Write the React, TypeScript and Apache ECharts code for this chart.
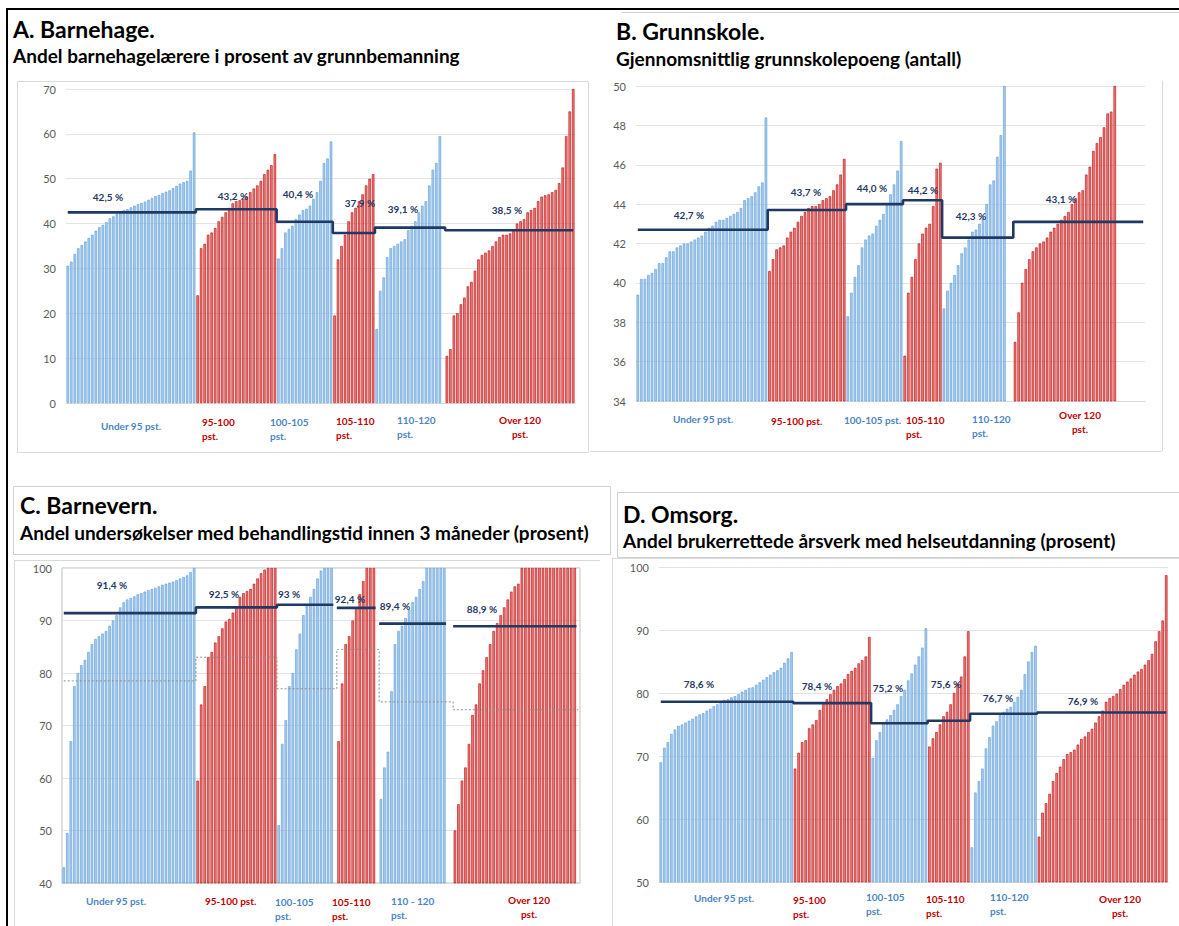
import React, { useEffect, useRef } from 'react';
import * as echarts from 'echarts';

const FONT = 'Lato, "Open Sans", "Noto Sans", sans-serif';
const BLUE_FILL = '#a8cbee';
const BLUE_EDGE = '#5b9bd5';
const RED_FILL = '#e67d7d';
const RED_EDGE = '#c00000';
const NAVY = '#1f3864';
const BLUE_TXT = '#4a84c4';
const RED_TXT = '#c00000';

// Group order: Under 95, 95-100, 100-105, 105-110, 110-120, Over 120 pst.
const groupIsRed = [false, true, false, true, false, true];

// ---------- A. Barnehage ----------
const aUnder95 = [30.6, 31.5, 33.2, 34.5, 35.2, 36.0, 36.8, 37.5, 38.4, 39.2, 39.7, 40.3, 41.2, 41.6, 42.2, 42.7, 43.0, 43.2, 43.6, 44.0, 44.3, 44.6, 44.9, 45.3, 45.7, 46.1, 46.4, 46.8, 47.1, 47.4, 47.9, 48.4, 48.9, 49.2, 49.5, 51.8, 60.3];
const a95to100 = [24.0, 34.5, 35.5, 37.5, 38.0, 39.0, 40.5, 41.5, 42.5, 43.5, 44.5, 45.0, 45.2, 45.5, 46.0, 47.0, 47.8, 48.5, 49.5, 51.0, 52.0, 53.0, 55.5];
const a100to105 = [32.2, 34.5, 38.0, 38.8, 39.5, 41.0, 42.0, 43.0, 43.3, 44.0, 45.5, 47.0, 49.5, 53.5, 54.5, 58.3];
const a105to110 = [19.5, 32.0, 35.0, 37.5, 40.5, 42.5, 43.5, 45.0, 46.5, 48.5, 50.0, 51.0];
const a110to120 = [16.5, 25.0, 28.0, 32.5, 34.5, 35.0, 35.5, 36.0, 36.5, 38.5, 39.5, 40.5, 42.5, 44.0, 45.0, 48.5, 52.0, 53.5, 59.5];
const aOver120 = [10.5, 12.0, 19.5, 20.0, 22.0, 23.5, 26.0, 27.0, 29.5, 32.0, 33.0, 33.5, 34.0, 35.0, 36.0, 37.0, 37.5, 37.5, 37.8, 38.5, 40.0, 40.5, 41.0, 42.5, 43.0, 43.5, 45.0, 46.0, 46.3, 46.5, 47.0, 47.5, 49.0, 52.5, 59.5, 65.0, 70.0];
const aEmptyAfter = [0, 0, 0, 0, 1, 0];
const aAverages = [42.5, 43.2, 40.4, 37.9, 39.1, 38.5];
const aAvgLabels = ['42,5 %', '43,2 %', '40,4 %', '37,9 %', '39,1 %', '38,5 %'];

// ---------- B. Grunnskole ----------
const bUnder95 = [39.4, 40.2, 40.2, 40.4, 40.5, 40.7, 41.0, 41.0, 41.3, 41.6, 41.6, 41.8, 41.9, 42.0, 42.0, 42.1, 42.2, 42.3, 42.4, 42.6, 42.8, 42.9, 43.1, 43.2, 43.2, 43.3, 43.4, 43.5, 43.6, 43.8, 44.2, 44.3, 44.4, 44.6, 44.9, 45.1, 48.4];
const b95to100 = [40.6, 41.2, 41.7, 41.8, 41.9, 42.3, 42.6, 42.8, 43.1, 43.4, 43.6, 43.8, 43.9, 43.9, 44.0, 44.2, 44.3, 44.4, 44.7, 45.0, 45.5, 46.3];
const b100to105 = [38.3, 39.5, 40.3, 40.9, 41.8, 42.2, 42.4, 42.5, 42.9, 43.2, 43.5, 44.0, 44.5, 45.0, 45.7, 47.2];
const b105to110 = [36.3, 39.5, 40.3, 41.2, 42.0, 42.5, 42.8, 43.0, 43.9, 45.8, 46.1];
const b110to120 = [38.7, 39.6, 40.0, 40.4, 40.9, 41.5, 41.8, 42.2, 42.6, 42.7, 43.0, 43.3, 44.0, 45.0, 45.2, 46.4, 47.5, 50.0];
const bOver120 = [37.0, 38.5, 40.0, 40.7, 41.2, 41.6, 41.8, 42.0, 42.1, 42.3, 42.6, 42.8, 43.0, 43.2, 43.4, 43.6, 44.0, 44.3, 44.6, 44.7, 45.5, 45.9, 46.7, 47.1, 47.4, 47.9, 48.6, 48.7, 50.0];
const bEmptyAfter = [0, 0, 0, 0, 2, 8];
const bAverages = [42.7, 43.7, 44.0, 44.2, 42.3, 43.1];
const bAvgLabels = ['42,7 %', '43,7 %', '44,0 %', '44,2 %', '42,3 %', '43,1 %'];

// ---------- C. Barnevern ----------
const cUnder95 = [43.0, 49.5, 67.0, 77.5, 80.0, 81.5, 82.5, 84.0, 85.5, 86.5, 87.0, 87.5, 88.0, 89.0, 90.0, 91.0, 92.5, 93.5, 94.0, 94.3, 94.6, 95.0, 95.2, 95.5, 95.8, 96.0, 96.2, 96.5, 96.8, 97.0, 97.2, 97.4, 97.7, 98.0, 98.3, 98.6, 99.2, 100];
const c95to100 = [59.5, 74.0, 77.5, 83.0, 84.0, 85.8, 87.0, 88.5, 89.8, 90.3, 91.5, 92.5, 94.5, 95.2, 95.6, 96.0, 97.0, 98.0, 99.0, 99.7, 100, 100, 100];
const c100to105 = [51.0, 66.5, 71.0, 77.5, 80.0, 84.5, 87.5, 91.0, 93.0, 94.5, 96.0, 98.0, 99.5, 100, 100, 100];
const c105to110 = [67.0, 78.0, 85.5, 87.0, 90.0, 92.5, 95.0, 97.5, 100, 100, 100];
const c110to120 = [56.0, 62.0, 65.0, 76.5, 85.5, 88.0, 89.0, 90.5, 92.0, 93.5, 94.5, 96.0, 97.5, 100, 100, 100, 100, 100, 100];
const cOver120 = [50.0, 55.0, 59.5, 62.0, 66.5, 72.0, 74.0, 78.0, 80.5, 83.0, 85.5, 88.0, 89.5, 91.0, 92.5, 94.0, 95.5, 96.5, 97.0, 100, 100, 100, 100, 100, 100, 100, 100, 100, 100, 100, 100, 100, 100, 100, 100];
const cEmptyAfter = [0, 0, 1, 1, 2, 1];
const cAverages = [91.4, 92.5, 93.0, 92.4, 89.4, 88.9];
const cPrevAverages = [78.5, 83.0, 77.0, 84.5, 74.5, 73.0];
const cAvgLabels = ['91,4 %', '92,5 %', '93 %', '92,4 %', '89,4 %', '88,9 %'];

// ---------- D. Omsorg ----------
const dUnder95 = [69.0, 71.3, 72.2, 73.5, 74.2, 74.8, 75.0, 75.3, 75.6, 75.9, 76.3, 76.6, 76.8, 77.2, 77.5, 77.9, 78.2, 78.6, 78.9, 79.0, 79.3, 79.5, 79.8, 80.2, 80.5, 80.8, 80.9, 81.3, 81.7, 82.1, 82.5, 82.9, 83.3, 83.6, 84.0, 84.8, 85.5, 86.5];
const d95to100 = [68.0, 70.5, 72.2, 72.5, 74.4, 75.0, 75.7, 77.3, 78.5, 79.0, 79.8, 80.5, 81.1, 81.5, 82.2, 83.0, 83.5, 84.0, 84.7, 85.2, 85.8, 88.9];
const d100to105 = [69.7, 72.5, 73.8, 75.3, 75.8, 76.5, 77.3, 78.2, 79.5, 80.5, 82.0, 83.1, 84.5, 85.8, 87.2, 90.3];
const d105to110 = [71.5, 72.8, 73.8, 75.0, 76.3, 77.0, 78.2, 80.0, 81.5, 82.6, 85.8, 89.8];
const d110to120 = [55.5, 64.2, 66.0, 68.0, 71.2, 73.0, 74.8, 75.5, 76.5, 77.0, 77.5, 77.8, 78.6, 79.4, 80.5, 83.0, 85.0, 86.5, 87.5];
const dOver120 = [57.2, 61.0, 62.5, 64.0, 66.0, 67.3, 68.3, 69.5, 70.3, 70.6, 71.0, 71.8, 72.7, 73.1, 73.8, 74.3, 75.3, 76.3, 77.2, 78.6, 79.2, 79.5, 79.9, 80.6, 81.3, 81.8, 82.3, 82.9, 83.4, 83.8, 84.5, 85.2, 86.2, 88.2, 89.8, 91.5, 98.7];
const dEmptyAfter = [0, 0, 0, 0, 0, 0];
const dAverages = [78.6, 78.4, 75.2, 75.6, 76.7, 76.9];
const dAvgLabels = ['78,6 %', '78,4 %', '75,2 %', '75,6 %', '76,7 %', '76,9 %'];

type PanelDef = {
  groups: number[][];
  emptyAfter: number[];
  averages: number[];
  prevAverages?: number[];
  breakLine: boolean;
  grid: { left: number; top: number; width: number; height: number };
  y: [number, number, number];
  frame: boolean;
};

const panels: PanelDef[] = [
  {
    groups: [aUnder95, a95to100, a100to105, a105to110, a110to120, aOver120],
    emptyAfter: aEmptyAfter, averages: aAverages, breakLine: false,
    grid: { left: 66, top: 89, width: 509, height: 314 }, y: [0, 70, 10], frame: false,
  },
  {
    groups: [bUnder95, b95to100, b100to105, b105to110, b110to120, bOver120],
    emptyAfter: bEmptyAfter, averages: bAverages, breakLine: false,
    grid: { left: 636, top: 86, width: 509, height: 315 }, y: [34, 50, 2], frame: false,
  },
  {
    groups: [cUnder95, c95to100, c100to105, c105to110, c110to120, cOver120],
    emptyAfter: cEmptyAfter, averages: cAverages, prevAverages: cPrevAverages, breakLine: true,
    grid: { left: 62, top: 568, width: 518, height: 315 }, y: [40, 100, 10], frame: true,
  },
  {
    groups: [dUnder95, d95to100, d100to105, d105to110, d110to120, dOver120],
    emptyAfter: dEmptyAfter, averages: dAverages, breakLine: false,
    grid: { left: 659, top: 567, width: 509, height: 315 }, y: [50, 100, 10], frame: false,
  },
];

const blueStyle = { color: BLUE_FILL, borderColor: BLUE_EDGE, borderWidth: 0.6 };
const redStyle = { color: RED_FILL, borderColor: RED_EDGE, borderWidth: 0.6 };

function buildPanelData(p: PanelDef) {
  const cats: string[] = [];
  const bars: any[] = [];
  const avg: any[] = [];
  const prev: any[] = [];
  p.groups.forEach((g, gi) => {
    g.forEach((v) => {
      cats.push(String(cats.length));
      bars.push({ value: v, itemStyle: groupIsRed[gi] ? redStyle : blueStyle });
      avg.push(p.averages[gi]);
      if (p.prevAverages) prev.push(p.prevAverages[gi]);
    });
    for (let k = 0; k < p.emptyAfter[gi]; k++) {
      cats.push(String(cats.length));
      bars.push('-');
      avg.push(p.breakLine ? '-' : p.averages[gi]);
      if (p.prevAverages) prev.push(p.prevAverages[gi]);
    }
  });
  return { cats, bars, avg, prev };
}

// ---------- text layout ----------
const titles: [string, number, number, number][] = [
  ['A. Barnehage.', 13, 29, 23],
  ['Andel barnehagelærere i prosent av grunnbemanning', 13, 55, 19],
  ['B. Grunnskole.', 616, 31, 23],
  ['Gjennomsnittlig grunnskolepoeng (antall)', 616, 58, 19],
  ['C. Barnevern.', 20, 505, 23],
  ['Andel undersøkelser med behandlingstid innen 3 måneder (prosent)', 20, 532, 19],
  ['D. Omsorg.', 623, 514, 23],
  ['Andel brukerrettede årsverk med helseutdanning (prosent)', 623, 540, 19],
];

const groupLabelPos: [string, number, number, string][][] = [
  [
    ['Under 95 pst.', 101, 426, 'left'],
    ['95-100\npst.', 202, 428.5, 'left'],
    ['100-105\npst.', 270, 429, 'left'],
    ['105-110\npst.', 336, 427.5, 'left'],
    ['110-120\npst.', 397, 426.5, 'left'],
    ['Over 120\npst.', 520, 427, 'center'],
  ],
  [
    ['Under 95 pst.', 673, 419, 'left'],
    ['95-100 pst.', 771, 421, 'left'],
    ['100-105 pst.', 844, 420, 'left'],
    ['105-110\npst.', 906, 426.5, 'left'],
    ['110-120\npst.', 972, 426, 'left'],
    ['Over 120\npst.', 1080, 422, 'center'],
  ],
  [
    ['Under 95 pst.', 86, 901, 'left'],
    ['95-100 pst.', 205, 901, 'left'],
    ['100-105\npst.', 275, 908.5, 'left'],
    ['105-110\npst.', 332, 908.5, 'left'],
    ['110 - 120\npst.', 391, 907.5, 'left'],
    ['Over 120\npst.', 529, 906.5, 'center'],
  ],
  [
    ['Under 95 pst.', 694, 898, 'left'],
    ['95-100\npst.', 793, 907, 'left'],
    ['100-105\npst.', 866, 904, 'left'],
    ['105-110\npst.', 926, 906, 'left'],
    ['110-120\npst.', 990, 904, 'left'],
    ['Over 120\npst.', 1120, 906, 'center'],
  ],
];

const avgLabelPos: [number, number][][] = [
  [[108, 197], [233, 196], [298, 194], [360, 203], [403, 209], [507, 210]],
  [[689, 215], [806, 192], [872, 188], [923, 190], [971, 216], [1061, 199]],
  [[112, 585], [224, 594], [289, 594], [350, 599], [395, 606], [482, 609]],
  [[699, 684], [817, 686], [888, 688], [946, 684], [998, 698], [1083, 701]],
];
const avgLabelTexts = [aAvgLabels, bAvgLabels, cAvgLabels, dAvgLabels];

function text(t: string, x: number, y: number, size: number, color: string, align = 'left', lineHeight?: number) {
  return {
    type: 'text', x, y, z: 100, silent: true,
    style: {
      text: t, fill: color, fontSize: size, fontWeight: 'bold', fontFamily: FONT,
      align, textAlign: align, verticalAlign: 'middle', textVerticalAlign: 'middle',
      lineHeight: lineHeight || Math.round(size * 1.3),
    },
  };
}
function line(x1: number, y1: number, x2: number, y2: number, stroke: string, w = 1) {
  return { type: 'line', z: 50, silent: true, shape: { x1, y1, x2, y2 }, style: { stroke, lineWidth: w } };
}
function rect(x: number, y: number, w: number, h: number, stroke: string) {
  return { type: 'rect', z: 50, silent: true, shape: { x, y, width: w, height: h }, style: { fill: 'none', stroke, lineWidth: 1 } };
}

function buildOption() {
  const grid: any[] = [];
  const xAxis: any[] = [];
  const yAxis: any[] = [];
  const series: any[] = [];
  panels.forEach((p, i) => {
    const d = buildPanelData(p);
    grid.push({ ...p.grid, show: p.frame, borderColor: '#bfbfbf', borderWidth: 1, containLabel: false });
    xAxis.push({
      type: 'category', gridIndex: i, data: d.cats, boundaryGap: true,
      axisLabel: { show: false }, axisTick: { show: false },
      axisLine: { show: true, lineStyle: { color: '#d9d9d9', width: 1 } },
      splitLine: { show: false },
    });
    yAxis.push({
      type: 'value', gridIndex: i, min: p.y[0], max: p.y[1], interval: p.y[2],
      axisLine: { show: false }, axisTick: { show: false },
      axisLabel: { color: '#595959', fontSize: 11, fontFamily: FONT, margin: 10 },
      splitLine: { show: true, lineStyle: { color: '#e3e3e3', width: 1 } },
    });
    series.push({
      type: 'bar', xAxisIndex: i, yAxisIndex: i, data: d.bars,
      barCategoryGap: '30%', z: 2,
    });
    if (p.prevAverages) {
      series.push({
        type: 'line', xAxisIndex: i, yAxisIndex: i, data: d.prev, step: 'middle',
        symbol: 'none', z: 3,
        lineStyle: { color: '#8c8c8c', width: 1, type: [2, 2] },
      });
    }
    series.push({
      type: 'line', xAxisIndex: i, yAxisIndex: i, data: d.avg, step: 'middle',
      symbol: 'none', connectNulls: false, z: 4,
      lineStyle: { color: NAVY, width: 2.6 },
    });
  });

  const graphic: any[] = [];
  // frames
  graphic.push(line(7, 9, 1179, 9, '#000', 2));
  graphic.push(line(7, 8, 7, 926, '#000', 2));
  graphic.push(line(622, 12.5, 1179, 12.5, '#d0d0d0', 1));
  graphic.push(rect(17.5, 81.5, 571, 371, '#d9d9d9'));
  graphic.push(line(590, 451.5, 1162, 451.5, '#d9d9d9', 1));
  graphic.push(line(1162.5, 81, 1162.5, 451, '#d9d9d9', 1));
  graphic.push(rect(13.5, 486.5, 597, 68, '#d0d0d0'));
  graphic.push(line(14.5, 560.5, 600, 560.5, '#d9d9d9', 1));
  graphic.push(line(14.5, 560, 14.5, 926, '#d9d9d9', 1));
  graphic.push(rect(617.5, 492.5, 562, 65, '#d0d0d0'));
  graphic.push(line(612.5, 558.5, 1179, 558.5, '#d9d9d9', 1));
  graphic.push(line(612.5, 558, 612.5, 926, '#d9d9d9', 1));

  titles.forEach(([t, x, y, s]) => graphic.push(text(t, x, y, s, '#000')));
  groupLabelPos.forEach((arr) =>
    arr.forEach(([t, x, y, al], gi) => graphic.push(text(t, x, y, 10, groupIsRed[gi] ? RED_TXT : BLUE_TXT, al, 14)))
  );
  avgLabelPos.forEach((arr, pi) =>
    arr.forEach(([x, y], gi) => graphic.push(text(avgLabelTexts[pi][gi], x, y, 10, NAVY, 'center')))
  );

  return { animation: false, backgroundColor: '#ffffff', grid, xAxis, yAxis, series, graphic };
}

export default function App() {
  const ref = useRef<HTMLDivElement>(null);
  useEffect(() => {
    document.body.style.margin = '0';
    document.body.style.overflow = 'hidden';
    const chart = echarts.init(ref.current as HTMLDivElement, undefined, { renderer: 'svg' });
    chart.setOption(buildOption() as any);
    return () => chart.dispose();
  }, []);
  return <div ref={ref} style={{ width: 1179, height: 926, background: '#fff' }} />;
}
